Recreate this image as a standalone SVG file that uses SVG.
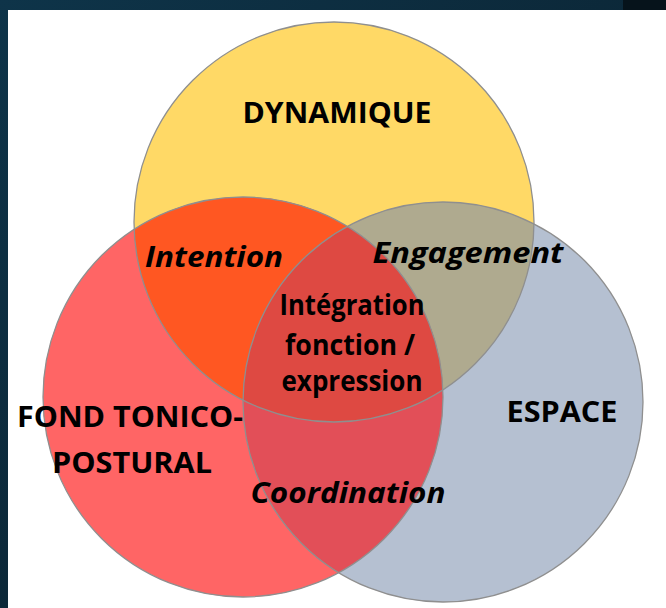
<svg xmlns="http://www.w3.org/2000/svg" width="666" height="608" viewBox="0 0 666 608">
<style>
.lbl{font-family:"Open Sans","Noto Sans","DejaVu Sans",sans-serif;font-weight:700;font-size:28px;fill:#000;text-anchor:middle}
.it{font-style:italic}
.ol{fill:none;stroke:#8f8f8f;stroke-width:1.3}
</style>
<defs>
<linearGradient id="bg" x1="0" y1="0" x2="1" y2="1">
<stop offset="0" stop-color="#0e3449"/>
<stop offset="1" stop-color="#0a1c28"/>
</linearGradient>
<circle id="cY" cx="334" cy="222" r="200"/>
<circle id="cR" cx="243" cy="397" r="200"/>
<circle id="cB" cx="443" cy="402" r="200"/>
<clipPath id="clipY"><use href="#cY"/></clipPath>
<clipPath id="clipR"><use href="#cR"/></clipPath>
<clipPath id="clipB"><use href="#cB"/></clipPath>
</defs>
<rect x="0" y="0" width="666" height="608" fill="url(#bg)"/>
<rect x="623" y="0" width="43" height="10" fill="#06131b"/>
<rect x="8" y="10" width="658" height="598" fill="#ffffff"/>
<g id="dynamique"><use href="#cY" fill="#ffd966"/></g>
<g id="fond-tonico-postural"><use href="#cR" fill="#ff6565"/></g>
<g id="espace"><use href="#cB" fill="#b5c0d1"/></g>
<g id="intention"><use href="#cR" fill="#ff5722" clip-path="url(#clipY)"/></g>
<g id="engagement"><use href="#cB" fill="#afaa8f" clip-path="url(#clipY)"/></g>
<g id="coordination"><use href="#cR" fill="#e24f58" clip-path="url(#clipB)"/></g>
<g id="integration"><g clip-path="url(#clipY)"><use href="#cR" fill="#de4942" clip-path="url(#clipB)"/></g></g>
<g id="outlines">
<use href="#cY" class="ol"/>
<use href="#cR" class="ol"/>
<use href="#cB" class="ol"/>
</g>
<g id="connectors"></g>
<g id="labels">
<text class="lbl" x="337" y="123" textLength="189" lengthAdjust="spacingAndGlyphs">DYNAMIQUE</text>
<text class="lbl it" x="214" y="267" textLength="138" lengthAdjust="spacingAndGlyphs">Intention</text>
<text class="lbl it" x="468" y="263" textLength="191" lengthAdjust="spacingAndGlyphs">Engagement</text>
<text class="lbl" x="352" y="315" textLength="145" lengthAdjust="spacingAndGlyphs">Intégration</text>
<text class="lbl" x="350" y="355" textLength="130" lengthAdjust="spacingAndGlyphs">fonction /</text>
<text class="lbl" x="352" y="391" textLength="141" lengthAdjust="spacingAndGlyphs">expression</text>
<text class="lbl" x="130" y="427" textLength="226" lengthAdjust="spacingAndGlyphs">FOND TONICO-</text>
<text class="lbl" x="132" y="473" textLength="160" lengthAdjust="spacingAndGlyphs">POSTURAL</text>
<text class="lbl" x="562" y="422" textLength="111" lengthAdjust="spacingAndGlyphs">ESPACE</text>
<text class="lbl it" x="348" y="503" textLength="195" lengthAdjust="spacingAndGlyphs">Coordination</text>
</g>
</svg>
